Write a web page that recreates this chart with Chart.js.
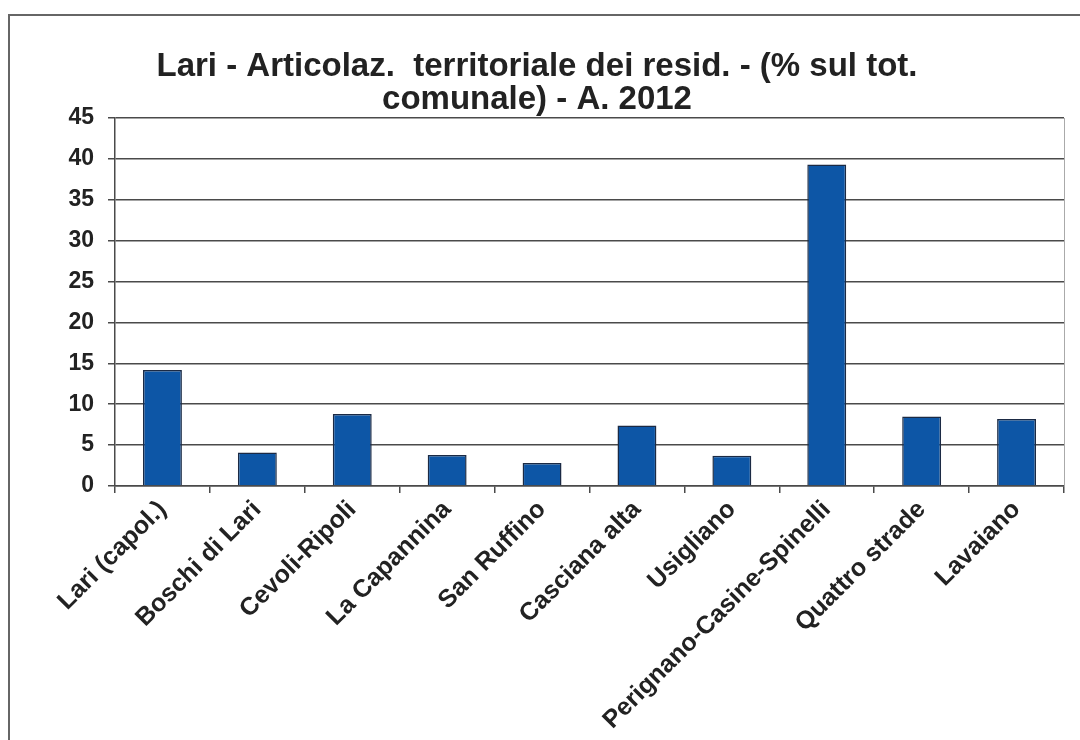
<!DOCTYPE html>
<html>
<head>
<meta charset="utf-8">
<title>Lari - Articolaz. territoriale dei resid.</title>
<script src="https://cdn.jsdelivr.net/npm/chart.js@4.4.1/dist/chart.umd.min.js"></script>
<style>
    html, body { margin: 0; padding: 0; background: #fff; }
    #wrap { position: relative; width: 1080px; height: 740px; overflow: hidden; }
    #frame {
        position: absolute; left: 8px; top: 14px; width: 1100px; height: 740px;
        border-left: 2px solid #666; border-top: 2px solid #666;
    }
    #chart { position: absolute; left: 0; top: 0; }
</style>
</head>
<body>
<div id="wrap">
    <div id="frame"></div>
    <canvas id="chart" width="1080" height="740"></canvas>
</div>
<script>
// Data
const titleLines = ['Lari - Articolaz.  territoriale dei resid. - (% sul tot.', 'comunale) - A. 2012'];
const categories = [
    'Lari (capol.)', 'Boschi di Lari', 'Cevoli-Ripoli', 'La Capannina', 'San Ruffino',
    'Casciana alta', 'Usigliano', 'Perignano-Casine-Spinelli', 'Quattro strade', 'Lavaiano'
];
const shares = [14.2, 4.1, 8.8, 3.8, 2.8, 7.4, 3.7, 39.3, 8.5, 8.2];
const yMin = 0;
const yMax = 45;
const yStep = 5;

const textColor = '#222';
const gridColor = '#4a4a4a';
const fontFamily = 'Liberation Sans, Arial, sans-serif';

// Build the bar chart
function createChart() {
    const ctx = document.getElementById('chart');
    new Chart(ctx, {
        type: 'bar',
        data: {
            labels: categories,
            datasets: [{
                data: shares,
                backgroundColor: '#0d56a6',
                borderColor: '#1b2a44',
                borderWidth: 1.5,
                categoryPercentage: 1,
                barPercentage: 0.41
            }]
        },
        options: {
            responsive: false,
            animation: false,
            layout: { padding: { left: 10, right: 16, top: 0, bottom: 0 } },
            plugins: {
                legend: { display: false },
                tooltip: { enabled: false },
                title: {
                    display: true,
                    text: titleLines,
                    color: textColor,
                    font: { family: fontFamily, size: 33, weight: 'bold', lineHeight: 1.0 },
                    padding: { top: 50, bottom: 2 }
                }
            },
            scales: {
                x: {
                    grid: {
                        drawOnChartArea: false,
                        drawTicks: true,
                        tickLength: 7,
                        color: gridColor,
                        lineWidth: 1.5,
                        offset: true
                    },
                    border: { color: gridColor, width: 1.5 },
                    ticks: {
                        color: textColor,
                        font: { family: fontFamily, size: 25, weight: 'bold' },
                        minRotation: 45,
                        maxRotation: 45,
                        padding: 2,
                        autoSkip: false
                    },
                    afterFit: scale => { scale.height = 254; }
                },
                y: {
                    min: yMin,
                    max: yMax,
                    grid: {
                        color: gridColor,
                        lineWidth: 1.5,
                        tickLength: 7
                    },
                    border: { color: gridColor, width: 1.5 },
                    ticks: {
                        stepSize: yStep,
                        color: textColor,
                        font: { family: fontFamily, size: 23, weight: 'bold' },
                        padding: 14
                    },
                    afterFit: scale => { scale.width = 105; }
                },
                y2: {
                    position: 'right',
                    min: yMin,
                    max: yMax,
                    grid: { display: false, drawTicks: false },
                    border: { color: '#aaa', width: 1 },
                    ticks: { display: false },
                    afterFit: scale => { scale.width = 0; }
                }
            }
        }
    });
}

document.addEventListener('DOMContentLoaded', createChart);
</script>
</body>
</html>
